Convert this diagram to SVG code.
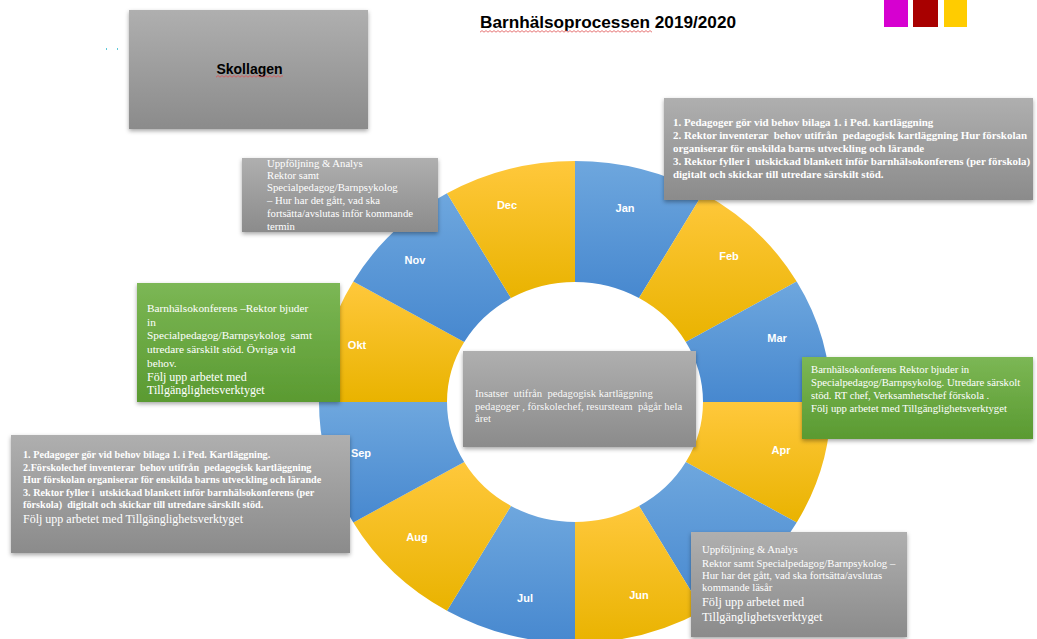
<svg xmlns="http://www.w3.org/2000/svg" width="1037" height="639" viewBox="0 0 1037 639">
<style>
.seg-b{fill:url(#gBlue)}
.seg-y{fill:url(#gYel)}
.mon{font-family:"Liberation Sans",Arial,sans-serif;font-weight:bold;font-size:11px;fill:#fff;text-anchor:middle}
.box-g{fill:url(#gGray);filter:url(#sh)}
.box-gr{fill:url(#gGreen);filter:url(#sh)}
.tb{font-family:"Liberation Serif","Times New Roman",serif;font-weight:bold;font-size:10.2px;fill:#fff}
.tr{font-family:"Liberation Serif","Times New Roman",serif;font-size:10.7px;fill:#fff}
.tl{font-family:"Liberation Serif","Times New Roman",serif;font-size:12px;fill:#fff}
</style>
<defs>
<linearGradient id="gBlue" x1="0" y1="0" x2="0" y2="1"><stop offset="0" stop-color="#6ea7de"/><stop offset="1" stop-color="#4788cf"/></linearGradient>
<linearGradient id="gYel" x1="0" y1="0" x2="0" y2="1"><stop offset="0" stop-color="#ffc83c"/><stop offset="1" stop-color="#e9b300"/></linearGradient>
<linearGradient id="gGray" x1="0" y1="0" x2="0" y2="1"><stop offset="0" stop-color="#afafaf"/><stop offset="1" stop-color="#8b8b8b"/></linearGradient>
<linearGradient id="gGreen" x1="0" y1="0" x2="0" y2="1"><stop offset="0" stop-color="#7cb755"/><stop offset="1" stop-color="#5a9a31"/></linearGradient>
<filter id="sh" x="-10%" y="-10%" width="120%" height="130%"><feDropShadow dx="0" dy="2" stdDeviation="2" flood-color="#000" flood-opacity="0.35"/></filter>
<pattern id="sq" width="4" height="3" patternUnits="userSpaceOnUse"><path d="M0 2.2 L2 0.6 L4 2.2" stroke="#e05050" stroke-width="0.8" fill="none"/></pattern>
</defs>
<rect width="1037" height="639" fill="#fff"/>

<g id="title">
<text x="480" y="28" font-family="Liberation Sans,Arial,sans-serif" font-weight="bold" font-size="17.2" fill="#000">Barnhälsoprocessen 2019/2020</text>
<rect x="480" y="30" width="172" height="3" fill="url(#sq)"/>
</g>
<g id="color-squares">
<rect x="884" y="0" width="24" height="27" fill="#d600d0"/>
<rect x="913" y="0" width="25" height="27" fill="#a80000"/>
<rect x="944" y="0" width="23" height="27" fill="#ffcc00"/>
</g>
<g id="marks"><rect x="106" y="48" width="1" height="2" fill="#5bc8d8"/><rect x="117" y="48" width="1" height="2" fill="#5bc8d8"/></g>

<g id="ring">
<path id="jan" class="seg-b" d="M575 161 A256 241 0 0 1 703 193.3 L639 298.1 A128 120 0 0 0 575 282 Z"/>
<path id="feb" class="seg-y" d="M703 193.3 A256 241 0 0 1 796.7 281.5 L685.8 342 A128 120 0 0 0 639 298.1 Z"/>
<path id="mar" class="seg-b" d="M796.7 281.5 A256 241 0 0 1 831 402 L703 402 A128 120 0 0 0 685.8 342 Z"/>
<path id="apr" class="seg-y" d="M831 402 A256 241 0 0 1 796.7 522.5 L685.8 462 A128 120 0 0 0 703 402 Z"/>
<path id="maj" class="seg-b" d="M796.7 522.5 A256 241 0 0 1 703 610.7 L639 505.9 A128 120 0 0 0 685.8 462 Z"/>
<path id="jun" class="seg-y" d="M703 610.7 A256 241 0 0 1 575 643 L575 522 A128 120 0 0 0 639 505.9 Z"/>
<path id="jul" class="seg-b" d="M575 643 A256 241 0 0 1 447 610.7 L511 505.9 A128 120 0 0 0 575 522 Z"/>
<path id="aug" class="seg-y" d="M447 610.7 A256 241 0 0 1 353.3 522.5 L464.2 462 A128 120 0 0 0 511 505.9 Z"/>
<path id="sep" class="seg-b" d="M353.3 522.5 A256 241 0 0 1 319 402 L447 402 A128 120 0 0 0 464.2 462 Z"/>
<path id="okt" class="seg-y" d="M319 402 A256 241 0 0 1 353.3 281.5 L464.2 342 A128 120 0 0 0 447 402 Z"/>
<path id="nov" class="seg-b" d="M353.3 281.5 A256 241 0 0 1 447 193.3 L511 298.1 A128 120 0 0 0 464.2 342 Z"/>
<path id="dec" class="seg-y" d="M447 193.3 A256 241 0 0 1 575 161 L575 282 A128 120 0 0 0 511 298.1 Z"/>
<text class="mon" x="625" y="212">Jan</text>
<text class="mon" x="729" y="260">Feb</text>
<text class="mon" x="777" y="342">Mar</text>
<text class="mon" x="781" y="454">Apr</text>
<text class="mon" x="639" y="599">Jun</text>
<text class="mon" x="525" y="602">Jul</text>
<text class="mon" x="417" y="541">Aug</text>
<text class="mon" x="361" y="457">Sep</text>
<text class="mon" x="357" y="349">Okt</text>
<text class="mon" x="415" y="264">Nov</text>
<text class="mon" x="507" y="209">Dec</text>
</g>

<g id="skollagen">
<rect class="box-g" x="129" y="10" width="239" height="119"/>
<text x="249.5" y="74" text-anchor="middle" font-family="Liberation Sans,Arial,sans-serif" font-weight="bold" font-size="14" fill="#000">Skollagen</text>
<rect x="216" y="75" width="67" height="3" fill="url(#sq)"/>
</g>

<g id="box-jan">
<rect class="box-g" x="664" y="98" width="369" height="102"/>
<text class="tb" style="font-size:10.95px" xml:space="preserve"><tspan x="673" y="126">1. Pedagoger gör vid behov bilaga 1. i Ped. kartläggning</tspan><tspan x="673" y="139">2. Rektor inventerar  behov utifrån  pedagogisk kartläggning Hur förskolan</tspan><tspan x="673" y="152">organiserar för enskilda barns utveckling och lärande</tspan><tspan x="673" y="165">3. Rektor fyller i  utskickad blankett inför barnhälsokonferens (per förskola)</tspan><tspan x="673" y="178">digitalt och skickar till utredare särskilt stöd.</tspan></text>
</g>

<g id="box-nov">
<rect class="box-g" x="242" y="158" width="196" height="74"/>
<text class="tr"><tspan x="267" y="167">Uppföljning &amp; Analys</tspan><tspan x="267" y="179">Rektor samt</tspan><tspan x="267" y="191">Specialpedagog/Barnpsykolog</tspan><tspan x="267" y="204">– Hur har det gått, vad ska</tspan><tspan x="267" y="217">fortsätta/avslutas inför kommande</tspan><tspan x="267" y="230">termin</tspan></text>
</g>

<g id="box-okt">
<rect class="box-gr" x="137" y="283" width="203" height="119"/>
<text class="tl" style="font-size:11.3px" xml:space="preserve"><tspan x="147" y="312">Barnhälsokonferens –Rektor bjuder</tspan><tspan x="147" y="326">in</tspan><tspan x="147" y="339">Specialpedagog/Barnpsykolog  samt</tspan><tspan x="147" y="353">utredare särskilt stöd. Övriga vid</tspan><tspan x="147" y="367">behov.</tspan></text>
<text class="tl"><tspan x="147" y="381">Följ upp arbetet med</tspan><tspan x="147" y="394">Tillgänglighetsverktyget</tspan></text>
</g>

<g id="box-mar">
<rect class="box-gr" x="802" y="357" width="231" height="82"/>
<text class="tr"><tspan x="811" y="373">Barnhälsokonferens Rektor bjuder in</tspan><tspan x="811" y="386">Specialpedagog/Barnpsykolog. Utredare särskolt</tspan><tspan x="811" y="398.5">stöd. RT chef, Verksamhetschef förskola .</tspan><tspan x="811" y="412">Följ upp arbetet med Tillgänglighetsverktyget</tspan></text>
</g>

<g id="box-center">
<rect class="box-g" x="463" y="351" width="233" height="96"/>
<text class="tr" fill-opacity="0.95" xml:space="preserve"><tspan x="475" y="396.5">Insatser  utifrån  pedagogisk kartläggning</tspan><tspan x="475" y="409.5">pedagoger , förskolechef, resursteam  pågår hela</tspan><tspan x="475" y="422">året</tspan></text>
</g>

<g id="box-sep">
<rect class="box-g" x="11" y="435" width="339" height="118"/>
<text class="tb" xml:space="preserve"><tspan x="23" y="458">1. Pedagoger gör vid behov bilaga 1. i Ped. Kartläggning.</tspan><tspan x="23" y="471">2.Förskolechef inventerar  behov utifrån  pedagogisk kartläggning</tspan><tspan x="23" y="483">Hur förskolan organiserar för enskilda barns utveckling och lärande</tspan><tspan x="23" y="496">3. Rektor fyller i  utskickad blankett inför barnhälsokonferens (per</tspan><tspan x="23" y="508">förskola)  digitalt och skickar till utredare särskilt stöd.</tspan></text>
<text class="tl" x="23" y="523">Följ upp arbetet med Tillgänglighetsverktyget</text>
</g>

<g id="box-jun">
<rect class="box-g" x="691" y="532" width="216" height="105"/>
<text class="tr"><tspan x="702" y="552.5">Uppföljning &amp; Analys</tspan><tspan x="702" y="567">Rektor samt Specialpedagog/Barnpsykolog –</tspan><tspan x="702" y="578.5">Hur har det gått, vad ska fortsätta/avslutas</tspan><tspan x="702" y="591">kommande läsår</tspan></text>
<text style="font-family:'Liberation Serif','Times New Roman',serif;font-size:12.3px;fill:#fff"><tspan x="702" y="606">Följ upp arbetet med</tspan><tspan x="702" y="621">Tillgänglighetsverktyget</tspan></text>
</g>
<g id="connectors"/>
</svg>
